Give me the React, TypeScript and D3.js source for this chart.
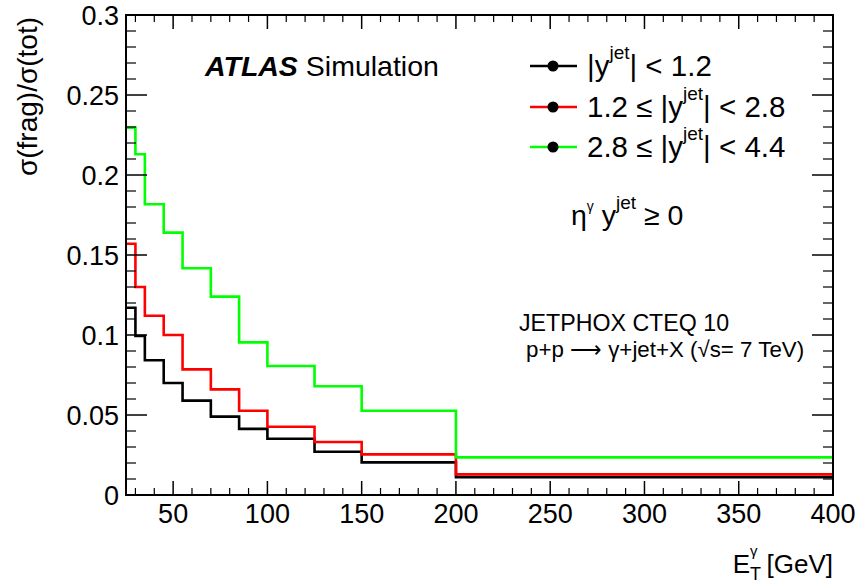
import React from 'react'
import * as d3 from 'd3'

// bin edges in E_T^gamma [GeV]
const binEdges = [25, 30, 35, 45, 55, 70, 85, 100, 125, 150, 200, 400]

// sigma(frag)/sigma(tot) per bin
const central = [0.117, 0.0994, 0.0842, 0.070, 0.059, 0.049, 0.0413, 0.0352, 0.027, 0.0204, 0.0112]
const middle = [0.157, 0.130, 0.112, 0.100, 0.0785, 0.066, 0.0527, 0.0427, 0.0331, 0.0254, 0.0129]
const forward = [0.2296, 0.213, 0.1817, 0.164, 0.1417, 0.124, 0.0954, 0.0806, 0.068, 0.0527, 0.0235]

const xMajor = [50, 100, 150, 200, 250, 300, 350, 400]
const yMajor = [0, 0.05, 0.1, 0.15, 0.2, 0.25, 0.3]

const series = [
  { name: 'central', values: central, color: '#000000', label: ['', '< 1.2'] },
  { name: 'middle', values: middle, color: '#ff0000', label: ['1.2 \u2264 ', '< 2.8'] },
  { name: 'forward', values: forward, color: '#00ff00', label: ['2.8 \u2264 ', '< 4.4'] }
]

const W = 859
const H = 583
const margin = { top: 15, right: 26, bottom: 88, left: 126 }
const font = 'Liberation Sans, Arial, Helvetica, sans-serif'

export default function App () {
  const x = d3.scaleLinear().domain([25, 400]).range([margin.left, W - margin.right])
  const y = d3.scaleLinear().domain([0, 0.3]).range([H - margin.bottom, margin.top])
  const x0 = x.range()[0]
  const x1 = x.range()[1]
  const y0 = y.range()[0]
  const y1 = y.range()[1]

  const line = d3.line<[number, number]>()
    .x(d => x(d[0]))
    .y(d => y(d[1]))
    .curve(d3.curveStepAfter)

  // histogram outline: one flat step per bin
  const stepPath = (vals: number[]) => {
    const pts: [number, number][] = binEdges.map((e, i) => [e, vals[Math.min(i, vals.length - 1)]])
    return line(pts) || ''
  }

  const xMinor = d3.range(30, 400, 10).filter(v => v % 50 !== 0)
  const yMinor = d3.range(0, 0.3001, 0.01).filter(v => Math.abs(v * 20 - Math.round(v * 20)) > 1e-6)

  const legX = 530
  const legY = [66, 107, 147]

  return (
    <svg width={W} height={H} style={{ position: 'absolute', left: 0, top: 0 }} fontFamily={font}>
      <rect width={W} height={H} fill='#fff' />

      {series.map(s => (
        <path key={s.name} d={stepPath(s.values)} fill='none' stroke={s.color} strokeWidth={2.6} />
      ))}

      {/* frame */}
      <rect x={x0} y={y1} width={x1 - x0} height={y0 - y1} fill='none' stroke='#000' strokeWidth={2} />

      {/* x ticks bottom and top */}
      {xMajor.map(v => (
        <g key={'xM' + v}>
          <line x1={x(v)} x2={x(v)} y1={y0} y2={y0 - 14} stroke='#000' strokeWidth={1.5} />
          <line x1={x(v)} x2={x(v)} y1={y1} y2={y1 + 14} stroke='#000' strokeWidth={1.5} />
          <text x={x(v)} y={y0 + 28} fontSize={27} textAnchor='middle'>{v}</text>
        </g>
      ))}
      {xMinor.map(v => (
        <g key={'xm' + v}>
          <line x1={x(v)} x2={x(v)} y1={y0} y2={y0 - 7} stroke='#000' strokeWidth={1.2} />
          <line x1={x(v)} x2={x(v)} y1={y1} y2={y1 + 7} stroke='#000' strokeWidth={1.2} />
        </g>
      ))}

      {/* y ticks left and right */}
      {yMajor.map(v => (
        <g key={'yM' + v}>
          <line x1={x0} x2={x0 + 21} y1={y(v)} y2={y(v)} stroke='#000' strokeWidth={1.5} />
          <line x1={x1} x2={x1 - 21} y1={y(v)} y2={y(v)} stroke='#000' strokeWidth={1.5} />
          <text x={x0 - 7} y={y(v) + 10} fontSize={27} textAnchor='end'>{String(v)}</text>
        </g>
      ))}
      {yMinor.map(v => (
        <g key={'ym' + v}>
          <line x1={x0} x2={x0 + 10} y1={y(v)} y2={y(v)} stroke='#000' strokeWidth={1.2} />
          <line x1={x1} x2={x1 - 10} y1={y(v)} y2={y(v)} stroke='#000' strokeWidth={1.2} />
        </g>
      ))}

      {/* axis titles */}
      <text transform={`translate(37,${y1 + 2}) rotate(-90)`} fontSize={28} textAnchor='end'>
        σ(frag)/σ(tot)
      </text>
      <text x={x1} y={573} fontSize={26} textAnchor='end'>
        <tspan>E</tspan>
        <tspan fontSize={18} dy={7}>T</tspan>
        <tspan fontSize={15} dx={-11} dy={-24}>γ</tspan>
        <tspan fontSize={26} dx={9} dy={17}>[GeV]</tspan>
      </text>

      {/* ATLAS label */}
      <text x={205} y={76} fontSize={28.5}>
        <tspan fontWeight='bold' fontStyle='italic'>ATLAS</tspan>
        <tspan> Simulation</tspan>
      </text>

      {/* legend */}
      {series.map((s, i) => (
        <g key={'leg' + s.name}>
          <line x1={legX} x2={legX + 47} y1={legY[i]} y2={legY[i]} stroke={s.color} strokeWidth={2.6} />
          <circle cx={legX + 23} cy={legY[i]} r={5.5} fill='#000' />
          <text x={587} y={legY[i] + 10} fontSize={29.5}>
            <tspan>{s.label[0]}</tspan>
            <tspan>|y</tspan>
            <tspan fontSize={19} dy={-17}>jet</tspan>
            <tspan dy={17}>| {s.label[1]}</tspan>
          </text>
        </g>
      ))}

      <text x={571} y={225} fontSize={28.5}>
        <tspan>η</tspan>
        <tspan fontSize={14} dy={-14}>γ</tspan>
        <tspan dy={14}> y</tspan>
        <tspan fontSize={19} dy={-16}>jet</tspan>
        <tspan dy={16}> ≥ 0</tspan>
      </text>

      <text x={519} y={331} fontSize={23.2}>JETPHOX CTEQ 10</text>
      <text x={526} y={357} fontSize={22.3}>p+p ⟶ γ+jet+X (√s= 7 TeV)</text>
    </svg>
  )
}
